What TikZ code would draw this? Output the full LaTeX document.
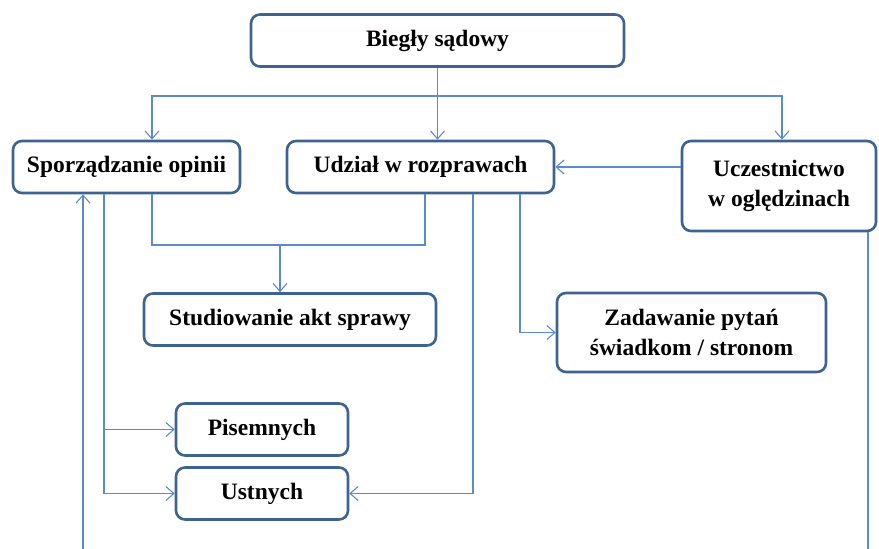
\documentclass[tikz,border=0pt]{standalone}
\usepackage{fontspec}
\setmainfont{Liberation Serif}
\usetikzlibrary{arrows.meta}
\definecolor{boxborder}{HTML}{3F6390}
\definecolor{connc}{HTML}{5B8BC9}
\begin{document}
\begin{tikzpicture}[x=1pt,y=-1pt,
  box/.style={draw=boxborder, line width=2.6pt, rounded corners=9pt, fill=white,
    align=center, font=\fontsize{23.5}{30}\selectfont\bfseries, inner sep=0pt},
  conn/.style={draw=connc, line width=1.1pt},
  arr/.style={conn, -{Straight Barb[length=8pt,width=14pt]}}]
\useasboundingbox (0,0) rectangle (879,549);
\node[box, minimum width=373pt, minimum height=52pt] (big) at (437.5,40.5) {Biegły sądowy};
\node[box, minimum width=227pt, minimum height=52pt] (spo) at (126.5,167) {Sporządzanie opinii};
\node[box, minimum width=267pt, minimum height=52pt] (udz) at (420.5,167) {Udział w rozprawach};
\node[box, minimum width=194pt, minimum height=90pt] (ucz) at (779,186) {Uczestnictwo\\w oględzinach};
\node[box, minimum width=292pt, minimum height=52pt] (stu) at (290,319.5) {Studiowanie akt sprawy};
\node[box, minimum width=269pt, minimum height=79pt] (zad) at (691.5,332.5) {Zadawanie pytań\\świadkom / stronom};
\node[box, minimum width=172pt, minimum height=52pt] (pis) at (262,429.5) {Pisemnych};
\node[box, minimum width=172pt, minimum height=52pt] (ust) at (262,493.5) {Ustnych};
% top distribution
\coordinate (h) at (437.5,96);
\draw[arr] (big.south) -- (big.south |- udz.north);
\draw[arr] (h) -| ([xshift=25.5pt]spo.north);
\draw[arr] (h) -| ([xshift=3pt]ucz.north);
\draw[arr] (ucz.west |- udz.east) -- (udz.east);
% to Studiowanie
\coordinate (m) at (280,245);
\draw[conn] ([xshift=25.5pt]spo.south) |- (m) -| ([xshift=4.5pt]udz.south);
\draw[arr] (m) -- (m |- stu.north);
% Pisemnych / Ustnych
\coordinate (a) at ([xshift=-22.5pt]spo.south);
\draw[arr] (a) |- (pis.west);
\draw[arr] (a) |- (ust.west);
\draw[arr] ([xshift=52.5pt]udz.south) |- (ust.east);
\draw[arr] ([xshift=99.5pt]udz.south) |- (zad.west);
% loop lines leaving the picture
\coordinate (bl) at (83,549);
\coordinate (br) at (868,549);
\draw[arr] (bl) -- (bl |- spo.south);
\draw[conn] (br |- ucz.south) -- (br);
\end{tikzpicture}
\end{document}
